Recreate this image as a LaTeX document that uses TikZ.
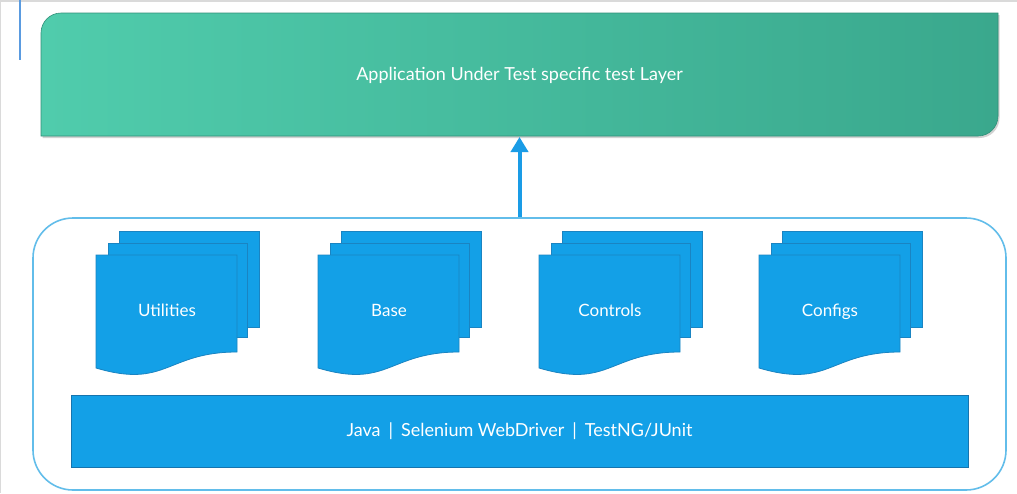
\documentclass[tikz,border=0pt]{standalone}
\usepackage{fontspec}
\setmainfont{Lato}
\usetikzlibrary{arrows.meta,shadows}
\definecolor{tealL}{HTML}{50CCAC}
\definecolor{tealD}{HTML}{3AA88D}
\definecolor{docfill}{HTML}{13A0E7}
\definecolor{docline}{HTML}{1A84C2}
\definecolor{barline}{HTML}{1674AE}
\definecolor{frameblue}{HTML}{62BDEA}
\definecolor{arrowblue}{HTML}{1A9CE6}
\definecolor{edgegray}{HTML}{DADADA}
\definecolor{markblue}{HTML}{5A9BE0}
\tikzset{
  sheet/.style={fill=docfill, draw=docline, line width=0.8pt},
  doclabel/.style={text=white, font=\fontsize{17}{20}\selectfont, text height=12pt, text depth=3pt},
  framebox/.style={draw=frameblue, line width=1.6pt, rounded corners=40pt, fill=none},
  barbox/.style={fill=docfill, draw=barline, line width=0.8pt, text=white, font=\fontsize{18}{21}\selectfont},
  uparrow/.style={draw=arrowblue, line width=4pt, -{Triangle[width=17pt,length=15pt]}},
}
\newcommand{\docstack}[3]{%
  \path[sheet] (#1+23,231) rectangle (#1+163,327);
  \path[sheet] (#1+12,243) rectangle (#1+151,337);
  \path[sheet] (#1,255) -- (#1+141,255) -- (#1+141,352)
     .. controls (#1+70.5,352) and (#1+70.5,389) .. (#1,368) -- cycle;
  \node[doclabel] (#2) at (#1+71,312) {#3};
}
\begin{document}
\begin{tikzpicture}[x=1pt,y=-1pt]
\useasboundingbox (0,0) rectangle (1017,493);
\fill[white] (0,0) rectangle (1017,493);
% screenshot edges
\draw[edgegray, line width=2pt] (0,1) -- (1017,1);
\draw[edgegray, line width=1pt] (0.5,0) -- (0.5,493);
\draw[markblue, line width=1.5pt] (20,0) -- (20,60);
% top layer
\path[left color=tealL, right color=tealD, draw=tealD!85!black, line width=0.6pt,
      drop shadow={shadow xshift=1.5pt, shadow yshift=-2pt, opacity=0.35}]
  (41,136) -- (41,33) .. controls (41,21.95) and (49.95,13) .. (61,13)
  -- (998,13) -- (998,116) .. controls (998,127.05) and (989.05,136) .. (978,136) -- cycle;
\node[text=white, font=\fontsize{18}{21}\selectfont] (aut) at (519.5,75) {Application Under Test specific test Layer};
\coordinate (autbottom) at (519.5,137);
% framework container
\node[framebox, minimum width=973pt, minimum height=272pt, inner sep=0pt] (frame) at (519.5,354) {};
\draw[uparrow] (frame.north) -- (autbottom);
% document stacks
\docstack{96}{util}{Utilities}
\docstack{318}{base}{Base}
\docstack{539}{ctrl}{Controls}
\docstack{759}{conf}{Configs}
% bottom bar
\node[barbox, minimum width=897pt, minimum height=72pt, inner sep=0pt] (bar) at (519.5,431.5)
  {Java\hspace{8pt}|\hspace{8pt}Selenium WebDriver\hspace{8pt}|\hspace{8pt}TestNG/JUnit};
\end{tikzpicture}
\end{document}
